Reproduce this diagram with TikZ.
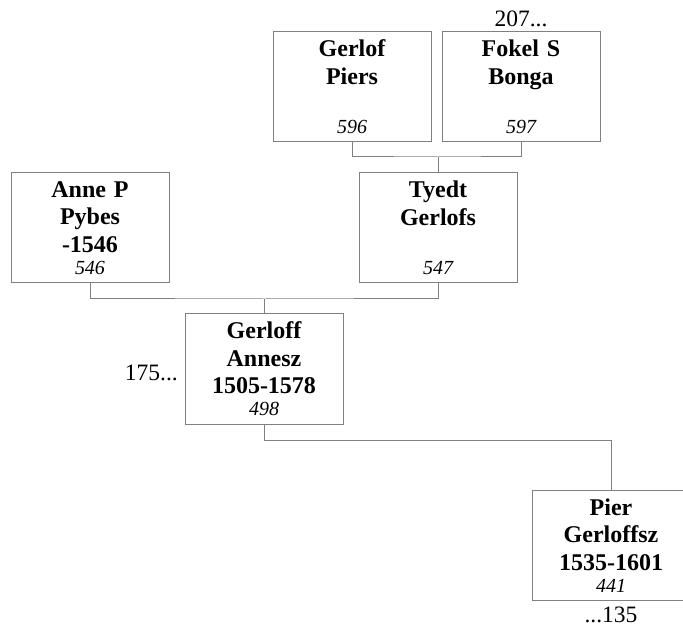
\documentclass[tikz,border=0pt]{standalone}
\usepackage{fontspec}
\setmainfont{Liberation Serif}
\definecolor{linegray}{RGB}{128,128,128}
\newcommand{\refnum}[1]{{\fontsize{20}{22}\selectfont\mdseries\itshape #1}}

\begin{document}
\begin{tikzpicture}[x=1pt,y=-1pt,
        person/.style={rectangle,draw=linegray,line width=1pt,fill=white,
            inner sep=4pt,text width=150pt,minimum height=110pt,align=center,
            font=\fontsize{24}{27.5}\selectfont\bfseries},
        link/.style={draw=linegray,line width=1pt},
        more/.style={font=\fontsize{23.5}{27}\selectfont,inner sep=0pt}]
        \useasboundingbox (0,0) rectangle (683,628);

        % Draw nodes explicitly
        \node[person] (gp) at (352,87) {Gerlof\\Piers\\~\\[-5.5pt]\refnum{596}};
        \node[person] (fb) at (521,87) {Fokel S\\Bonga\\~\\[-5.5pt]\refnum{597}};
        \node[person] (ap) at (90,228) {Anne P\\Pybes\\ -1546\\[-5.5pt]\refnum{546}};
        \node[person] (tg) at (438,228) {Tyedt\\Gerlofs\\~\\[-5.5pt]\refnum{547}};
        \node[person] (ga) at (264,369) {Gerloff\\Annesz\\1505-1578\\[-5.5pt]\refnum{498}};
        \node[person] (pg) at (611,545.5) {Pier\\Gerloffsz\\1535-1601\\[-5.5pt]\refnum{441}};

        % Draw continuation marks
        \node[more,anchor=base] (up) at (521,27) {207...};
        \node[more,anchor=base east] (side) at (178,381) {175...};
        \node[more,anchor=base] (down) at (611,622) {...135};

        % Draw joints
        \coordinate (j1) at (438,157);
        \coordinate (j2) at (264,299);
        \coordinate (j3) at (264,440);

        % Draw parent edges
        \draw[link] (gp.south) |- (j1) -| (fb.south);
        \draw[link] (j1) -- (tg.north);
        \draw[link] (ap.south) |- (j2) -| (tg.south);
        \draw[link] (j2) -- (ga.north);

        % Draw child edge
        \draw[link] (ga.south) -- (j3) -| (pg.north);
    \end{tikzpicture}
\end{document}
